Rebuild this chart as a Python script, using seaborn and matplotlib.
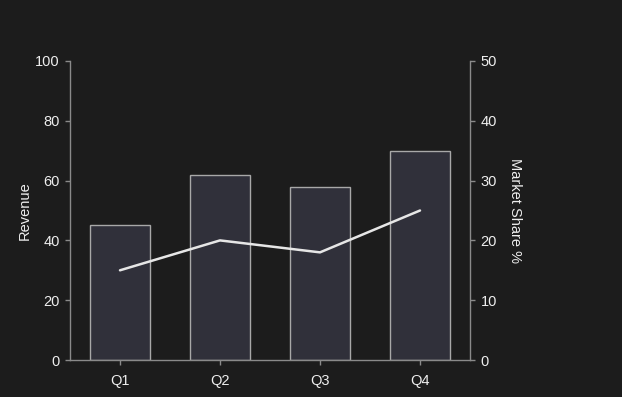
import matplotlib
matplotlib.use("Agg")
import matplotlib.pyplot as plt
import pandas as pd
import seaborn as sns

quarters = ["Q1", "Q2", "Q3", "Q4"]
revenue = [45, 62, 58, 70]
market_share = [15, 20, 18, 25]

bg = "#1c1c1c"
spine_col = "#8a8a8a"
text_col = "#eeeeee"

sns.set_style("dark")
plt.rcParams["font.family"] = ["Liberation Sans", "DejaVu Sans"]

df = pd.DataFrame({"Quarter": quarters, "Revenue": revenue, "Share": market_share})

fig = plt.figure(figsize=(6.22, 3.97), dpi=100, facecolor=bg)
ax = fig.add_axes([70 / 622, 1 - 360 / 397, 400 / 622, 299 / 397])
ax.set_facecolor(bg)

sns.barplot(data=df, x="Quarter", y="Revenue", ax=ax, width=0.6,
            color="#30303a", edgecolor="#a8a8a8", linewidth=1, saturation=1)

ax2 = ax.twinx()
sns.lineplot(data=df, x="Quarter", y="Share", ax=ax2, color="#e6e6e6", linewidth=1.8)

ax.set_xlim(-0.5, 3.5)
ax.set_ylim(0, 100)
ax2.set_ylim(0, 50)
ax.set_yticks(range(0, 101, 20))
ax2.set_yticks(range(0, 51, 10))

ax.set_xlabel("")
ax.set_ylabel("Revenue", color=text_col, fontsize=10.5, labelpad=2)
ax2.set_ylabel("Market Share %", color=text_col, fontsize=10.5, rotation=270, labelpad=18)

for a in (ax, ax2):
    a.grid(False)
    for side, sp in a.spines.items():
        sp.set_color(spine_col)
        sp.set_linewidth(1)
    a.spines["top"].set_visible(False)
    a.tick_params(colors=spine_col, labelcolor=text_col, labelsize=10.5,
                  length=3.5, width=1, pad=4)
ax.spines["right"].set_visible(False)
ax2.spines["left"].set_visible(False)
ax2.spines["bottom"].set_visible(False)
ax.tick_params(axis="x", bottom=True, pad=6.5)
ax.tick_params(axis="y", left=True)
ax2.tick_params(axis="y", right=True)
ax2.patch.set_visible(False)

fig.savefig("out.png", dpi=100, facecolor=bg)
